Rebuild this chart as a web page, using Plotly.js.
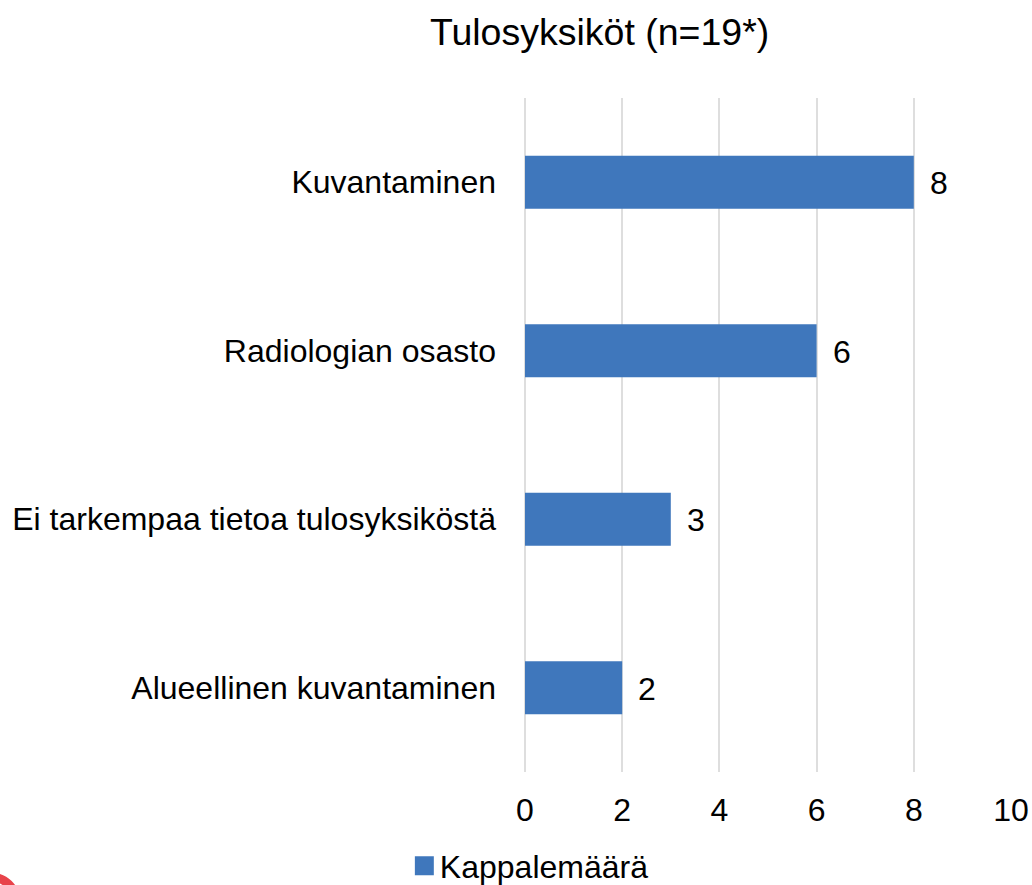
<!DOCTYPE html>
<html><head><meta charset="utf-8">
<script src="https://cdn.plot.ly/plotly-3.0.1.min.js"></script>
<style>html,body{margin:0;padding:0;background:#fff}</style></head>
<body><div id="c" style="width:1032px;height:885px"></div>
<script>
const categories=["Alueellinen kuvantaminen","Ei tarkempaa tietoa tulosyksiköstä","Radiologian osasto","Kuvantaminen"];
const values=[2,3,6,8];
const tickVals=[0,2,4,6,8,10];
const seriesName="Kappalemäärä";
const titleText="Tulosyksiköt (n=19*)";
const fontFam='"Liberation Sans",Arial,sans-serif';
const valueLabels=values.map((v,i)=>({x:v,y:categories[i],xref:'x',yref:'y',text:String(v),showarrow:false,xanchor:'left',yanchor:'middle',xshift:14,yshift:-1,font:{size:32,color:'#000',family:fontFam}}));
const arc={type:'circle',xref:'paper',yref:'paper',x0:(-31.3-525)/486,x1:(15.3-525)/486,y0:(772-877.3)/674,y1:(772-923.9)/674,line:{color:'#e8434a',width:9},fillcolor:'rgba(0,0,0,0)'};
Plotly.newPlot('c',[{type:'bar',orientation:'h',y:categories,x:values,name:seriesName,width:0.315,
 marker:{color:'#3f77bc'},cliponaxis:false,showlegend:true}],
{width:1032,height:885,margin:{l:525,r:21,t:98,b:113,autoexpand:false},paper_bgcolor:'#fff',plot_bgcolor:'#fff',
 font:{family:fontFam,size:32,color:'#000'},
 title:{text:titleText,x:0.581,xanchor:'center',y:0.964,yanchor:'middle',font:{size:37.5,color:'#000',family:fontFam}},
 xaxis:{range:[0,10],tickvals:tickVals,ticks:'',showgrid:true,gridcolor:'#dedede',gridwidth:2,zeroline:true,zerolinecolor:'#dedede',zerolinewidth:2,tickfont:{size:32},ticklabelstandoff:16,automargin:false},
 yaxis:{ticks:'',showgrid:false,showline:false,tickfont:{size:32},ticklabelstandoff:28,automargin:false},
 annotations:valueLabels,shapes:[arc],
 legend:{orientation:'h',x:0.0038,xanchor:'center',y:-0.1395,yanchor:'middle',font:{size:32}},
 showlegend:true},{displayModeBar:false,staticPlot:true}).then(gd=>{
  gd.querySelectorAll('.legend .legendpoints path').forEach(p=>p.setAttribute('transform',(p.getAttribute('transform')||'')+' translate(4.5,0) scale(1.58)'));
 });
</script></body></html>
